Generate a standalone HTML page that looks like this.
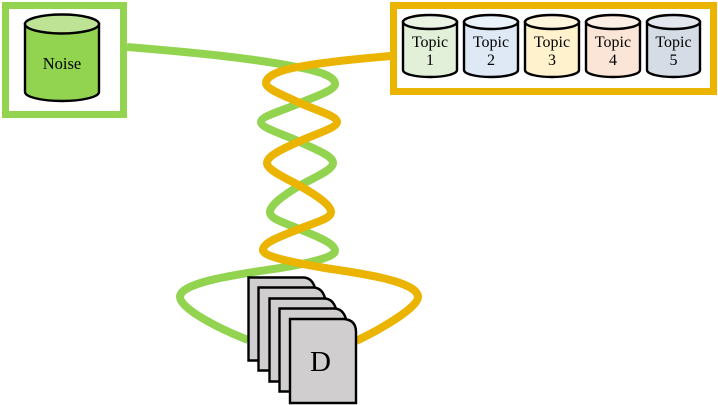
<!DOCTYPE html>
<html>
<head>
<meta charset="utf-8">
<style>
html,body{margin:0;padding:0;background:#fff;width:718px;height:405px;overflow:hidden}
svg{display:block}
text{font-family:"Liberation Serif",serif;fill:#000;text-anchor:middle}
</style>
</head>
<body>
<svg width="718" height="405" viewBox="0 0 718 405" xmlns="http://www.w3.org/2000/svg">
<!-- strands -->
<path fill="none" stroke="#92D450" stroke-width="8" d="M127,47 C200,53 250,58 297,67 C318,71 335,76 335,84 C335,90 317,96 300,103 C282,111 261,116 261,122 C261,128 283,134 300,142 C317,150 333,156 333,163 C333,170 315,177 299,186 C284,195 270,205 270,212 C270,219 283,222 299,229 C316,236 335,243 335,251 C335,257 310,263 280,268 C240,274 180,282 180,297 C180,308 215,327 248,340"/>
<path fill="none" stroke="#EBB400" stroke-width="8" d="M391,56 C355,59 325,62 298,67 C280,70 266,76 266,83 C266,89 283,95 300,103 C318,111 337,116 337,122 C337,128 315,134 298,142 C282,149 267,156 267,163 C267,170 284,177 300,186 C316,195 331,205 331,212 C331,219 316,222 299,229 C282,236 263,242 263,250 C263,256 285,261 325,268 C350,272 418,280 418,297 C418,307 385,327 356,341"/>
<!-- boxes -->
<rect x="5.5" y="5.5" width="118" height="109" fill="#fff" stroke="#92D450" stroke-width="7"/>
<rect x="393.5" y="5.5" width="320" height="86" fill="#fff" stroke="#EBB400" stroke-width="7"/>
<!-- noise cylinder -->
<path d="M25,24 V92 C25,97 42,101 62,101 C82,101 99,97 99,92 V24 Z" fill="#92D450" stroke="#000" stroke-width="2.4"/>
<ellipse cx="62" cy="24" rx="37" ry="9.5" fill="#BEE395" stroke="#000" stroke-width="2.4"/>
<text x="62" y="69" font-size="16.5">Noise</text>
<!-- topic cylinders -->
<g stroke="#000" stroke-width="2.4">
<path d="M403,22 V70 C403,74 415,77 430,77 C445,77 457,74 457,70 V22 Z" fill="#E2EFD9"/>
<ellipse cx="430" cy="22" rx="27" ry="7" fill="#EBF3E5"/>
<path d="M464,22 V70 C464,74 476,77 491,77 C506,77 518,74 518,70 V22 Z" fill="#DEE9F5"/>
<ellipse cx="491" cy="22" rx="27" ry="7" fill="#EAF2FA"/>
<path d="M525,22 V70 C525,74 537,77 552,77 C567,77 579,74 579,70 V22 Z" fill="#FFF2CC"/>
<ellipse cx="552" cy="22" rx="27" ry="7" fill="#FDF6DD"/>
<path d="M586,22 V70 C586,74 598,77 613,77 C628,77 640,74 640,70 V22 Z" fill="#FBE5D6"/>
<ellipse cx="613" cy="22" rx="27" ry="7" fill="#FBEEE5"/>
<path d="M647,22 V70 C647,74 659,77 673.5,77 C688,77 700,74 700,70 V22 Z" fill="#D6DCE5"/>
<ellipse cx="673.5" cy="22" rx="26.5" ry="7" fill="#E3E7ED"/>
</g>
<g font-size="16">
<text x="430" y="47">Topic</text><text x="430" y="65">1</text>
<text x="491" y="47">Topic</text><text x="491" y="65">2</text>
<text x="552" y="47">Topic</text><text x="552" y="65">3</text>
<text x="613" y="47">Topic</text><text x="613" y="65">4</text>
<text x="673.5" y="47">Topic</text><text x="673.5" y="65">5</text>
</g>
<!-- documents -->
<g fill="#D0CECE" stroke="#000" stroke-width="2.4">
<path d="M248.5,277.5 H303 Q312,277.5 315,288 V360.5 H248.5 Z"/>
<path d="M258.5,287.5 H313 Q322,287.5 325,298 V370.5 H258.5 Z"/>
<path d="M269.5,298.5 H324 Q333,298.5 336,309 V381.5 H269.5 Z"/>
<path d="M279.5,308.5 H334 Q343,308.5 346,319 V391.5 H279.5 Z"/>
<path d="M290,319 H344 Q356,320 356,332 V403 H290 Z"/>
</g>
<text x="320.5" y="371" font-size="29">D</text>
</svg>
</body>
</html>
